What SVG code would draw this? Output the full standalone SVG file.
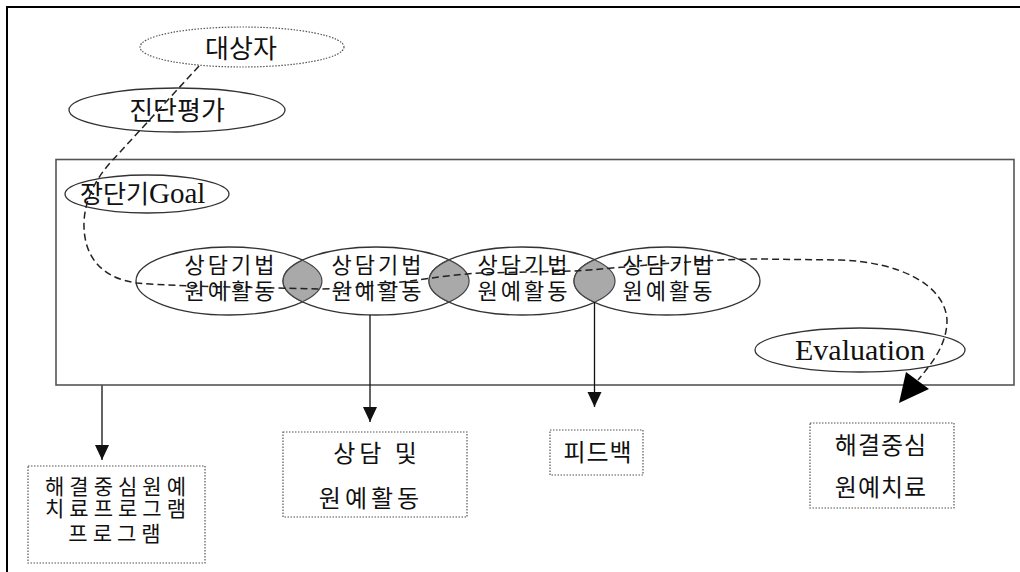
<svg xmlns="http://www.w3.org/2000/svg" width="1020" height="572" viewBox="0 0 1020 572">
<defs>
<style>
.kr{font-family:"Noto Sans CJK KR","Liberation Serif",serif;fill:#111;text-anchor:middle}
.k22{font-size:22px}
.k21{font-size:21px}
.k24{font-size:24px}
.k26{font-size:26px}
.el{fill:#fff;stroke:#333;stroke-width:1.3}
.lens{fill:#a9a9a9;stroke:#444;stroke-width:1.2}
.dotbox{fill:#fff;stroke:#555;stroke-width:1.2;stroke-dasharray:1.5 1.5}
.dash{fill:none;stroke:#222;stroke-width:1.5;stroke-dasharray:7 4}
.arr{stroke:#111;stroke-width:1.3;fill:none}
</style>
<marker id="ah" markerWidth="16" markerHeight="16" refX="15" refY="7" orient="auto" markerUnits="userSpaceOnUse">
<path d="M0,0 L15,7 L0,14 z" fill="#111"/>
</marker>
</defs>
<rect width="1020" height="572" fill="#fff"/>
<path d="M7,572 L7,7 L1020,7" fill="none" stroke="#000" stroke-width="2"/>
<rect id="mainbox" x="56" y="159.5" width="958" height="225.5" fill="none" stroke="#555" stroke-width="1.6"/>

<g id="n-target">
<ellipse cx="242" cy="47" rx="102" ry="20" fill="#fff" stroke="#555" stroke-width="1.2" stroke-dasharray="1.5 1.5"/>
<text class="kr k26" x="241" y="58">대상자</text>
</g>
<g id="n-diag">
<ellipse class="el" cx="177" cy="110" rx="108" ry="22"/>
<text class="kr k26" x="177" y="120">진단평가</text>
</g>
<g id="n-goal">
<ellipse class="el" cx="147" cy="194" rx="82" ry="19"/>
<text x="80" y="203" style="font-family:'Noto Sans CJK KR',serif;font-size:25px;fill:#111">장단기<tspan style="font-family:'Liberation Serif',serif;font-size:29px">Goal</tspan></text>
</g>

<g id="n-eval">
<ellipse class="el" cx="860" cy="350" rx="105" ry="22"/>
<text x="860" y="360" style="font-family:'Liberation Serif',serif;font-size:30px;fill:#111;text-anchor:middle">Evaluation</text>
</g>

<g id="activities">
<ellipse class="el" cx="229" cy="281" rx="93" ry="34"/>
<ellipse class="el" cx="376" cy="281" rx="93" ry="34" fill="none"/>
<ellipse class="el" cx="522" cy="281" rx="93" ry="34" fill="none"/>
<ellipse class="el" cx="667" cy="281" rx="93" ry="34" fill="none"/>
<path class="lens" d="M302.5,260.2 A93,34 0 0 1 302.5,301.8 A93,34 0 0 1 302.5,260.2 Z"/>
<path class="lens" d="M449,259.9 A93,34 0 0 1 449,302.1 A93,34 0 0 1 449,259.9 Z"/>
<path class="lens" d="M594.5,259.7 A93,34 0 0 1 594.5,302.3 A93,34 0 0 1 594.5,259.7 Z"/>
</g>

<g id="connectors">
<path class="dash" d="M199,66 L110,163 C95,180 85,200 84,222 C83,255 100,278 137,283 C160,285 190,286 230,287 L320,289 C380,288 430,276 480,273 L575,271 C620,268 700,259 760,259 L840,260 C900,262 945,285 947,320 C947,345 932,363 918,380"/>
<polygon points="906,372 899,403 929,389" fill="#000"/>
<line class="arr" x1="102" y1="385.5" x2="102" y2="460" marker-end="url(#ah)"/>
<line class="arr" x1="370" y1="315" x2="370" y2="422" marker-end="url(#ah)"/>
<line class="arr" x1="594.5" y1="302" x2="594.5" y2="407" marker-end="url(#ah)"/>
</g>

<g id="act-text">
<text class="kr k22" letter-spacing="3"><tspan x="231" y="273">상담기법</tspan><tspan x="231" y="299">원예활동</tspan></text>
<text class="kr k22" letter-spacing="3"><tspan x="378" y="273">상담기법</tspan><tspan x="378" y="299">원예활동</tspan></text>
<text class="kr k22" letter-spacing="3"><tspan x="524" y="273">상담기법</tspan><tspan x="524" y="299">원예활동</tspan></text>
<text class="kr k22" letter-spacing="3"><tspan x="669" y="273">상담기법</tspan><tspan x="669" y="299">원예활동</tspan></text>
</g>

<g id="n-program">
<rect class="dotbox" x="28" y="466" width="177" height="97"/>
<text class="kr k21" letter-spacing="5"><tspan x="118" y="494">해결중심원예</tspan><tspan x="118" y="516">치료프로그램</tspan><tspan x="117" y="541">프로그램</tspan></text>
</g>
<g id="n-counsel">
<rect class="dotbox" x="283" y="432" width="184" height="85"/>
<text class="kr k24" letter-spacing="4"><tspan x="377" y="462">상담 및</tspan><tspan x="371" y="507">원예활동</tspan></text>
</g>
<g id="n-feedback">
<rect class="dotbox" x="550" y="430" width="93" height="45"/>
<text class="kr k24" x="598" y="461" letter-spacing="1">피드백</text>
</g>
<g id="n-therapy">
<rect class="dotbox" x="810" y="423" width="144" height="85"/>
<text class="kr k24" letter-spacing="1"><tspan x="881" y="454">해결중심</tspan><tspan x="881" y="496">원예치료</tspan></text>
</g>
</svg>
